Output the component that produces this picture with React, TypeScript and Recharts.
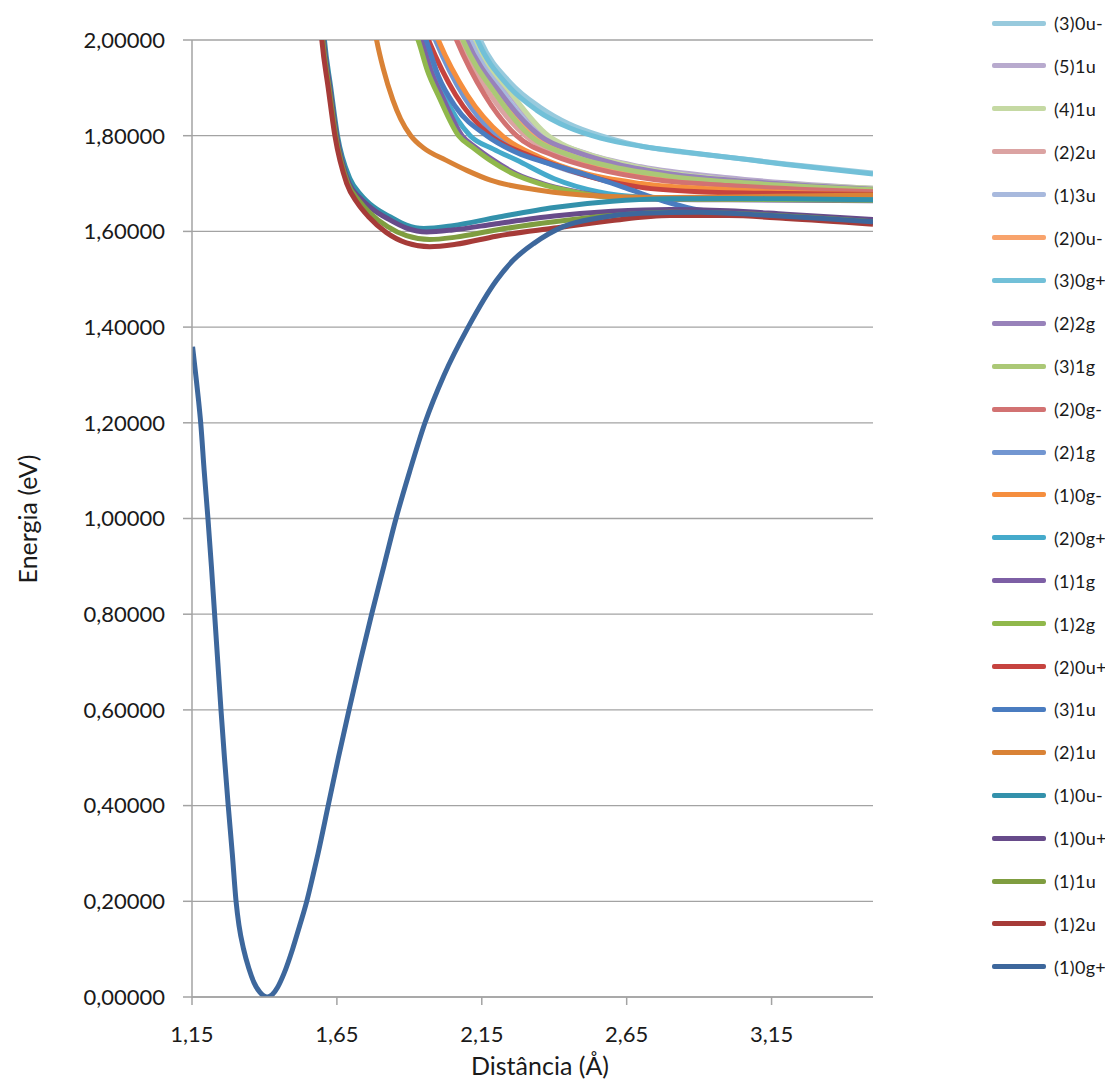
import React from 'react';
import { LineChart, Line, XAxis, YAxis, CartesianGrid, Label } from 'recharts';

type Pt = [number, number];

// Tick labels
const X_TICKS = [1.15, 1.65, 2.15, 2.65, 3.15];
const Y_TICKS = [0, 0.2, 0.4, 0.6, 0.8, 1.0, 1.2, 1.4, 1.6, 1.8, 2.0];

// Series names (legend order, top to bottom)
const NAMES = [
  '(3)0u-', '(5)1u', '(4)1u', '(2)2u', '(1)3u', '(2)0u-', '(3)0g+', '(2)2g', '(3)1g', '(2)0g-',
  '(2)1g', '(1)0g-', '(2)0g+', '(1)1g', '(1)2g', '(2)0u+', '(3)1u', '(2)1u', '(1)0u-', '(1)0u+',
  '(1)1u', '(1)2u', '(1)0g+',
];

const COLORS = [
  '#98CADD', '#B8AACE', '#C5D9A3', '#DBA3A2', '#A8B9DD', '#F8A36C', '#72C0D8', '#9882BA', '#ABC876', '#D27272',
  '#7296D1', '#F58E3E', '#45AACB', '#7D5FA5', '#90B84B', '#C6433F', '#4A7CC0', '#D98236', '#3391AB', '#674B8A',
  '#7F9D40', '#A63B38', '#3D679C',
];

// Series values: [distance (Å), energy (eV)]
const S_3_0um: Pt[] = [[2.125, 2.03], [2.145, 2.0], [2.25, 1.91], [2.35, 1.86], [2.45, 1.825], [2.56, 1.8], [2.65, 1.785], [2.77, 1.771], [2.84, 1.766], [3.0, 1.755], [3.2, 1.741], [3.5, 1.722]];
const S_5_1u: Pt[] = [[2.1, 2.03], [2.12, 2.0], [2.25, 1.885], [2.37, 1.8], [2.5, 1.765], [2.7, 1.735], [3.0, 1.712], [3.5, 1.69]];
const S_4_1u: Pt[] = [[2.105, 2.03], [2.125, 2.0], [2.25, 1.89], [2.38, 1.8], [2.423, 1.784], [2.55, 1.755], [2.77, 1.725], [3.0, 1.708], [3.5, 1.69]];
const S_2_2u: Pt[] = [[2.05, 2.03], [2.07, 2.0], [2.18, 1.885], [2.3, 1.8], [2.43, 1.757], [2.6, 1.728], [2.8, 1.71], [3.1, 1.696], [3.5, 1.684]];
const S_1_3u: Pt[] = [[2.09, 2.03], [2.11, 2.0], [2.23, 1.885], [2.35, 1.8], [2.48, 1.762], [2.65, 1.735], [2.9, 1.712], [3.2, 1.698], [3.5, 1.685]];
const S_2_0um: Pt[] = [[2.07, 2.03], [2.09, 2.0], [2.21, 1.885], [2.33, 1.8], [2.46, 1.758], [2.6, 1.73], [2.8, 1.708], [3.1, 1.692], [3.5, 1.679]];
const S_3_0gp: Pt[] = [[2.115, 2.03], [2.135, 2.0], [2.24, 1.905], [2.34, 1.853], [2.45, 1.817], [2.56, 1.795], [2.7, 1.778], [2.85, 1.766], [3.0, 1.755], [3.2, 1.74], [3.5, 1.72]];
const S_2_2g: Pt[] = [[2.078, 2.03], [2.098, 2.0], [2.22, 1.885], [2.35, 1.8], [2.48, 1.765], [2.62, 1.74], [2.8, 1.72], [3.1, 1.703], [3.5, 1.688]];
const S_3_1g: Pt[] = [[2.065, 2.03], [2.085, 2.0], [2.2, 1.885], [2.316, 1.8], [2.45, 1.76], [2.6, 1.735], [2.8, 1.715], [3.1, 1.7], [3.5, 1.687]];
const S_2_0gm: Pt[] = [[2.043, 2.03], [2.063, 2.0], [2.16, 1.885], [2.27, 1.8], [2.4, 1.758], [2.55, 1.73], [2.75, 1.708], [3.0, 1.696], [3.5, 1.683]];
const S_2_1g: Pt[] = [[1.97, 2.03], [1.99, 2.0], [2.09, 1.88], [2.2, 1.8], [2.33, 1.755], [2.5, 1.718], [2.7, 1.695], [3.0, 1.684], [3.5, 1.676]];
const S_1_0gm: Pt[] = [[1.98, 2.03], [2.0, 2.0], [2.1, 1.885], [2.22, 1.8], [2.35, 1.755], [2.5, 1.722], [2.7, 1.7], [3.0, 1.687], [3.5, 1.677]];
const S_2_0gp: Pt[] = [[1.93, 2.03], [1.95, 2.0], [2.02, 1.885], [2.11, 1.8], [2.19, 1.772], [2.27, 1.749], [2.4, 1.71], [2.55, 1.683], [2.7, 1.672], [3.0, 1.668], [3.5, 1.667]];
const S_1_1g: Pt[] = [[1.922, 2.03], [1.942, 2.0], [1.975, 1.935], [2.015, 1.88], [2.082, 1.8], [2.13, 1.775], [2.19, 1.749], [2.27, 1.72], [2.36, 1.7], [2.46, 1.685], [2.59, 1.672], [2.75, 1.667], [3.0, 1.666], [3.5, 1.664]];
const S_1_2g: Pt[] = [[1.91, 2.03], [1.93, 2.0], [1.963, 1.935], [2.003, 1.88], [2.07, 1.8], [2.12, 1.775], [2.178, 1.749], [2.26, 1.72], [2.35, 1.7], [2.45, 1.685], [2.581, 1.672], [2.75, 1.668], [3.0, 1.667], [3.5, 1.665]];
const S_2_0up: Pt[] = [[1.946, 2.03], [1.966, 2.0], [2.06, 1.885], [2.18, 1.8], [2.3, 1.762], [2.42, 1.735], [2.55, 1.71], [2.7, 1.692], [2.9, 1.683], [3.2, 1.679], [3.5, 1.677]];
const S_3_1u: Pt[] = [[1.94, 2.03], [1.958, 2.0], [2.0, 1.925], [2.06, 1.86], [2.167, 1.8], [2.27, 1.765], [2.38, 1.742], [2.5, 1.72], [2.65, 1.69], [2.78, 1.663], [2.88, 1.647], [3.0, 1.638], [3.2, 1.631], [3.5, 1.623]];
const S_2_1u: Pt[] = [[1.772, 2.05], [1.787, 2.0], [1.81, 1.94], [1.843, 1.875], [1.87, 1.835], [1.905, 1.8], [1.95, 1.774], [2.026, 1.749], [2.1, 1.727], [2.18, 1.707], [2.35, 1.686], [2.55, 1.674], [2.75, 1.671], [3.0, 1.672], [3.25, 1.674], [3.5, 1.676]];
const S_1_0um: Pt[] = [[1.594, 2.1], [1.607, 2.0], [1.629, 1.9], [1.652, 1.8], [1.695, 1.71], [1.735, 1.675], [1.775, 1.652], [1.835, 1.63], [1.89, 1.613], [1.95, 1.606], [2.05, 1.612], [2.2, 1.629], [2.4, 1.65], [2.6, 1.663], [2.8, 1.668], [3.0, 1.669], [3.2, 1.668], [3.5, 1.666]];
const S_1_0up: Pt[] = [[1.591, 2.1], [1.604, 2.0], [1.626, 1.9], [1.649, 1.8], [1.692, 1.7], [1.73, 1.67], [1.77, 1.648], [1.83, 1.625], [1.89, 1.607], [1.96, 1.599], [2.05, 1.603], [2.2, 1.616], [2.4, 1.632], [2.6, 1.642], [2.8, 1.646], [3.0, 1.643], [3.2, 1.636], [3.5, 1.625]];
const S_1_1u: Pt[] = [[1.588, 2.1], [1.601, 2.0], [1.623, 1.9], [1.646, 1.8], [1.688, 1.7], [1.725, 1.665], [1.765, 1.638], [1.825, 1.61], [1.89, 1.591], [1.97, 1.583], [2.06, 1.588], [2.2, 1.603], [2.4, 1.62], [2.6, 1.633], [2.8, 1.64], [3.0, 1.638], [3.2, 1.632], [3.5, 1.62]];
const S_1_2u: Pt[] = [[1.585, 2.1], [1.598, 2.0], [1.62, 1.9], [1.643, 1.8], [1.684, 1.7], [1.72, 1.66], [1.76, 1.63], [1.82, 1.598], [1.89, 1.576], [1.97, 1.568], [2.06, 1.573], [2.2, 1.59], [2.4, 1.607], [2.6, 1.623], [2.8, 1.633], [3.0, 1.633], [3.2, 1.627], [3.5, 1.615]];
const S_1_0gp: Pt[] = [
  [1.152, 1.359], [1.163, 1.3], [1.172, 1.25], [1.18, 1.2], [1.192, 1.1], [1.205, 1.0], [1.217, 0.9], [1.228, 0.8],
  [1.239, 0.7], [1.25, 0.6], [1.262, 0.5], [1.275, 0.4], [1.289, 0.3], [1.302, 0.2], [1.312, 0.15], [1.328, 0.1],
  [1.346, 0.06], [1.364, 0.03], [1.384, 0.01], [1.41, 0.0], [1.427, 0.005], [1.445, 0.02], [1.468, 0.05], [1.497, 0.1],
  [1.522, 0.15], [1.546, 0.2], [1.566, 0.25], [1.585, 0.3], [1.62, 0.4], [1.655, 0.5], [1.692, 0.6], [1.73, 0.7],
  [1.77, 0.8], [1.812, 0.9], [1.854, 1.0], [1.902, 1.1], [1.954, 1.2], [2.02, 1.3], [2.103, 1.4], [2.201, 1.498],
  [2.259, 1.54], [2.33, 1.575], [2.431, 1.61], [2.55, 1.628], [2.7, 1.638], [2.9, 1.64], [3.1, 1.635], [3.3, 1.628],
  [3.5, 1.62],
];

const SERIES_VALUES: Pt[][] = [
  S_3_0um, S_5_1u, S_4_1u, S_2_2u, S_1_3u, S_2_0um, S_3_0gp, S_2_2g, S_3_1g, S_2_0gm,
  S_2_1g, S_1_0gm, S_2_0gp, S_1_1g, S_1_2g, S_2_0up, S_3_1u, S_2_1u, S_1_0um, S_1_0up,
  S_1_1u, S_1_2u, S_1_0gp,
];

const FONT = 'Lato, "Open Sans", sans-serif';
const fmtX = (v: number) => v.toFixed(2).replace('.', ',');
const fmtY = (v: number) => v.toFixed(5).replace('.', ',');

const CHART_W = 1105;
const CHART_H = 1076;

export default function App() {
  return (
    <div style={{ position: 'relative', width: CHART_W, height: CHART_H, fontFamily: FONT, background: '#fff' }}>
      <LineChart width={CHART_W} height={CHART_H} margin={{ top: 32, right: 240, bottom: 27, left: 0 }}>
        <CartesianGrid horizontal vertical={false} stroke="#A3A3A3" strokeWidth={1.3} />
        <XAxis
          dataKey="x"
          type="number"
          domain={[1.15, 3.5]}
          ticks={X_TICKS}
          allowDataOverflow
          tickFormatter={fmtX}
          height={60}
          tickSize={8}
          tickMargin={21}
          axisLine={{ stroke: '#A3A3A3', strokeWidth: 1.5 }}
          tickLine={{ stroke: '#A3A3A3', strokeWidth: 1.5 }}
          tick={{ fill: '#1a1a1a', fontSize: 22, fontFamily: FONT }}
        >
          <Label
            content={() => (
              <text x={532} y={1067} textAnchor="middle" fill="#1a1a1a" fontSize={25} fontFamily={FONT}>
                Distância (Å)
              </text>
            )}
          />
        </XAxis>
        <YAxis
          type="number"
          domain={[0, 2]}
          ticks={Y_TICKS}
          allowDataOverflow
          tickFormatter={fmtY}
          width={184}
          tickSize={9}
          tickMargin={18}
          axisLine={{ stroke: '#A3A3A3', strokeWidth: 1.5 }}
          tickLine={{ stroke: '#A3A3A3', strokeWidth: 1.5 }}
          tick={{ fill: '#1a1a1a', fontSize: 22, fontFamily: FONT }}
        >
          <Label
            content={() => (
              <text
                x={19}
                y={511}
                transform="rotate(-90, 19, 511)"
                textAnchor="middle"
                dominantBaseline="central"
                fill="#1a1a1a"
                fontSize={25}
                fontFamily={FONT}
              >
                Energia (eV)
              </text>
            )}
          />
        </YAxis>
        {SERIES_VALUES.map((pts, i) => (
          <Line
            key={NAMES[i]}
            name={NAMES[i]}
            data={pts.map(([x, e]) => ({ x, e }))}
            dataKey="e"
            type="monotone"
            stroke={COLORS[i]}
            strokeWidth={5}
            dot={false}
            activeDot={false}
            isAnimationActive={false}
          />
        ))}
      </LineChart>
      <div style={{ position: 'absolute', left: 984, top: 0 }}>
        {NAMES.map((n, i) => (
          <div
            key={n}
            style={{ position: 'absolute', left: 0, top: 15 + i * 42.9 - 12, height: 24, display: 'flex', alignItems: 'center', whiteSpace: 'nowrap' }}
          >
            <div style={{ width: 54, height: 5, background: COLORS[i], borderRadius: 2 }} />
            <span style={{ marginLeft: 8, fontSize: 18, letterSpacing: 0.3, color: '#1a1a1a', fontFamily: FONT }}>{n}</span>
          </div>
        ))}
      </div>
    </div>
  );
}
